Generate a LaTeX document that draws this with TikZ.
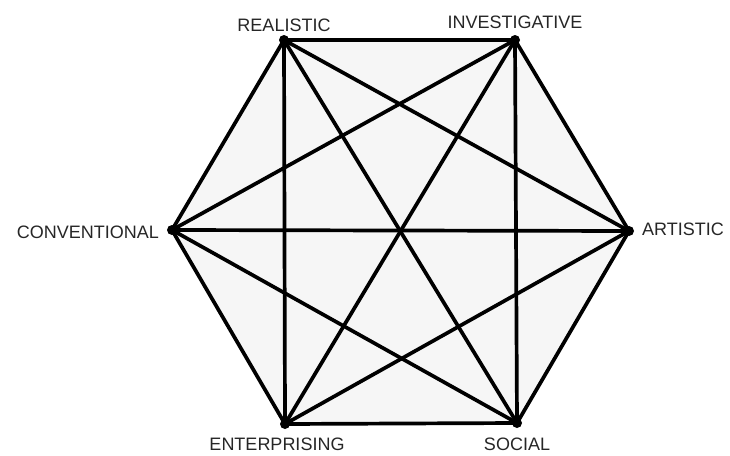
\documentclass[tikz,border=0pt]{standalone}
\usepackage{fontspec}
\setmainfont{Liberation Sans}
\usetikzlibrary{positioning}
\definecolor{hexfill}{gray}{0.965}

\begin{document}
\begin{tikzpicture}[x=1pt, y=-1pt,
    edge/.style={line width=3.7pt, line cap=round},
    lbl/.style={font=\fontsize{18}{20}\selectfont, inner sep=1pt, text=black!85}]
  \useasboundingbox (0,0) rectangle (730,455);
  % corners of the hexagon
  \coordinate (R) at (284,40);
  \coordinate (I) at (515,40);
  \coordinate (A) at (629,231);
  \coordinate (S) at (517,423);
  \coordinate (E) at (285,424);
  \coordinate (C) at (172,230);

  \fill[hexfill] (R) -- (I) -- (A) -- (S) -- (E) -- (C) -- cycle;

  % every pair is joined
  \foreach \a/\b in {R/I, R/A, R/S, R/E, R/C, I/A, I/S, I/E, I/C,
                     A/S, A/E, A/C, S/E, S/C, E/C}
    \draw[edge] (\a) -- (\b);
  \foreach \p in {R, I, A, S, E, C}
    \fill (\p) circle (5pt);

  \node[lbl, above=7pt of R] (lR) {REALISTIC};
  \node[lbl, above=10pt of I] (lI) {INVESTIGATIVE};
  \node[lbl, right=12pt of A, yshift=2pt] (lA) {ARTISTIC};
  \node[lbl, below=14pt of S] (lS) {SOCIAL};
  \node[lbl, below=13pt of E, xshift=-8pt] (lE) {ENTERPRISING};
  \node[lbl, left=12pt of C, yshift=-2pt] (lC) {CONVENTIONAL};
\end{tikzpicture}
\end{document}
